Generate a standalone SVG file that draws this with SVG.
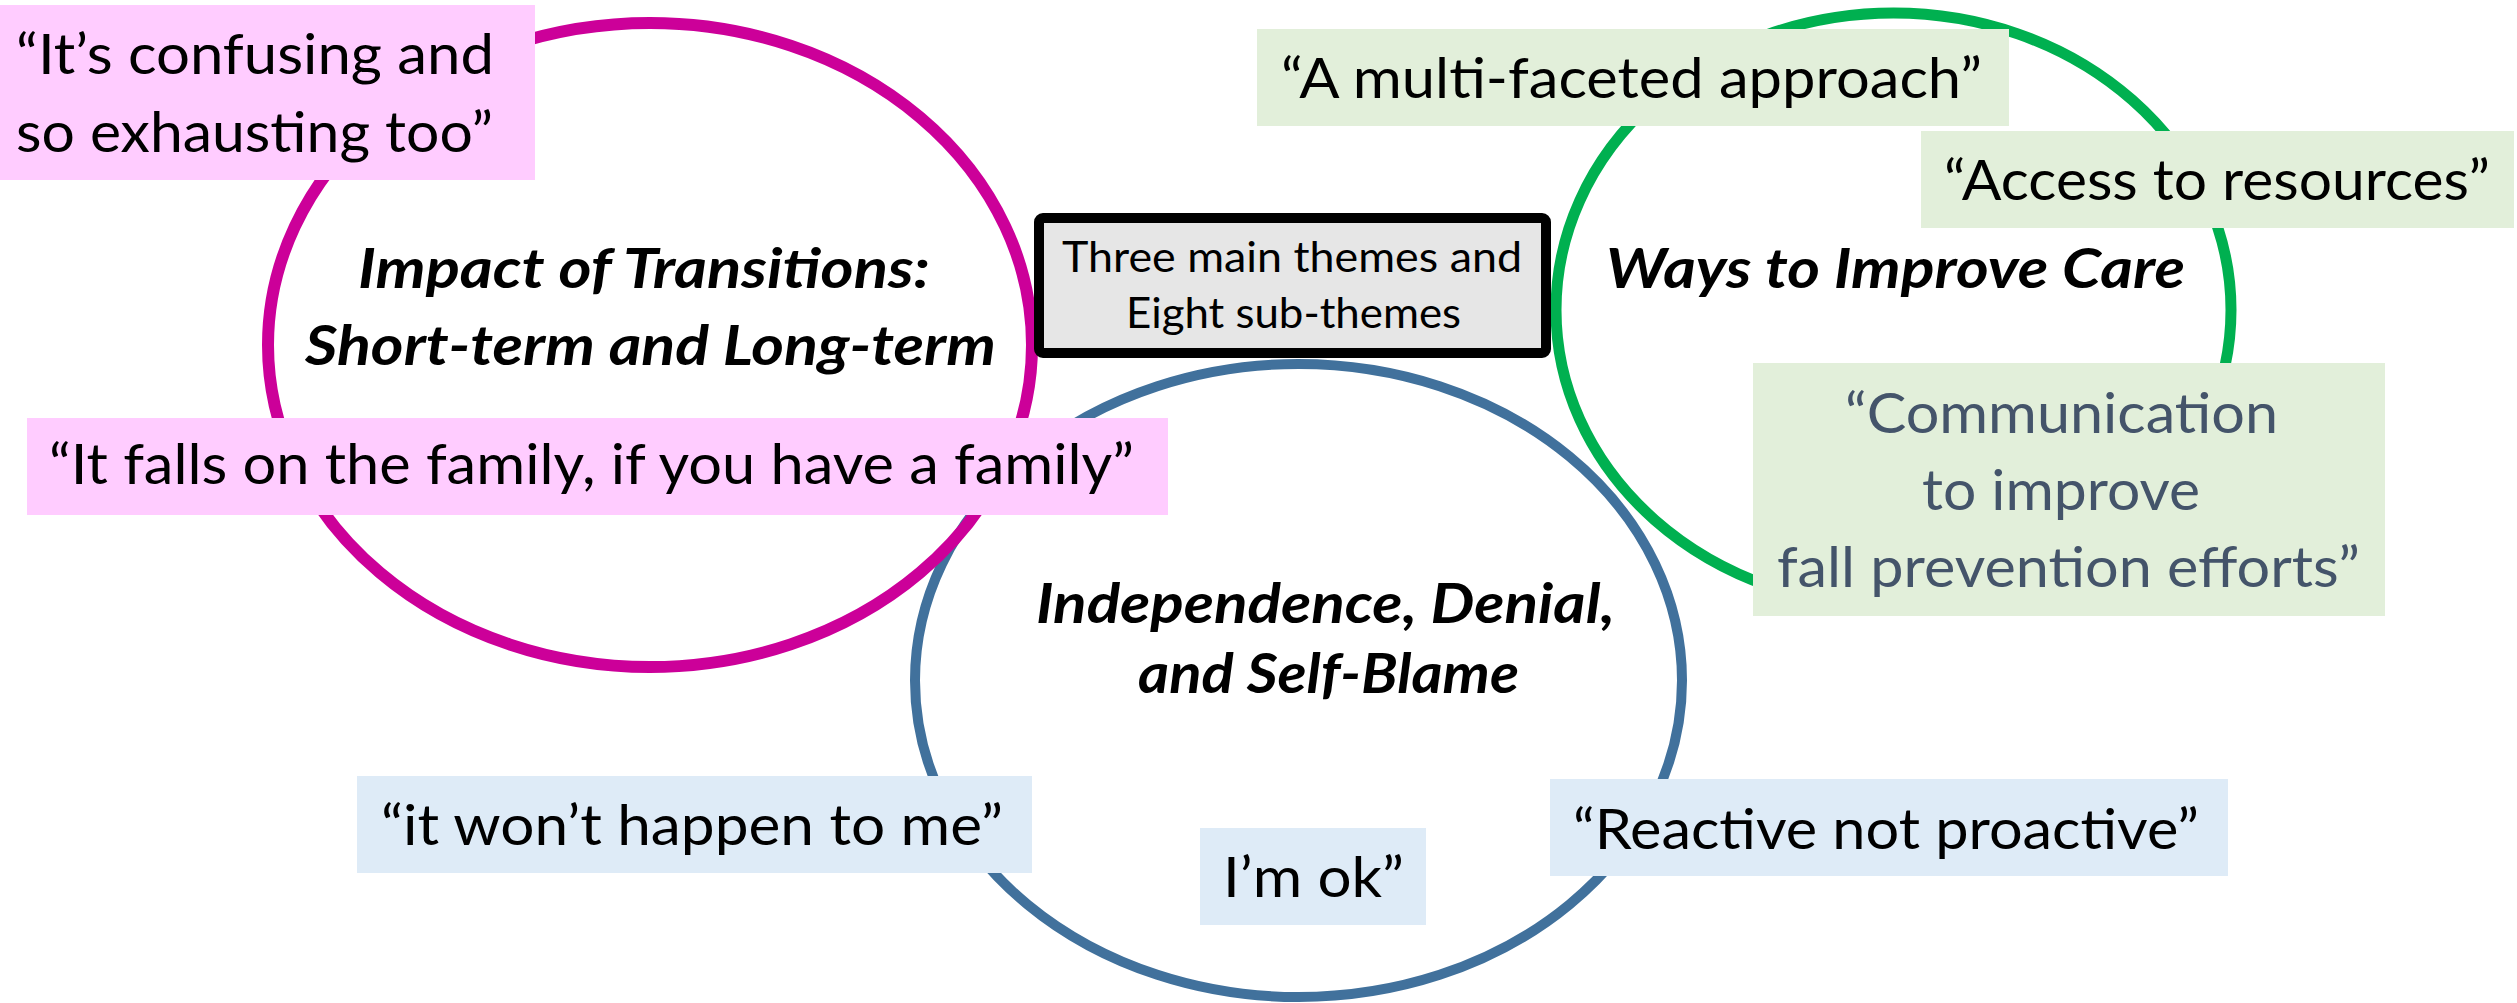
<svg xmlns="http://www.w3.org/2000/svg" width="2517" height="1003" viewBox="0 0 2517 1003">
<style>
.q{font-family:Lato,"Open Sans","Liberation Sans",sans-serif;font-size:56px;fill:#000}
.t{font-family:Lato,"Open Sans","Liberation Sans",sans-serif;font-size:55px;font-weight:bold;font-style:italic;fill:#000}
.g{font-family:Lato,"Open Sans","Liberation Sans",sans-serif;font-size:42px;fill:#000}
.slate{fill:#44546a}
.pink{fill:#ffccff}
.lg{fill:#e2efda}
.lb{fill:#deebf7}
.ring{fill:none}
</style>
<rect width="2517" height="1003" fill="#ffffff"/>
<g id="theme-independence-ring">
<ellipse class="ring" cx="1298.5" cy="680.5" rx="383.5" ry="316.5" stroke="#41719c" stroke-width="10"/>
</g>
<g id="theme-impact-ring">
<ellipse class="ring" cx="650" cy="345" rx="382" ry="322" stroke="#cc0099" stroke-width="12"/>
</g>
<g id="theme-ways-ring">
<ellipse class="ring" cx="1893.5" cy="310" rx="337.5" ry="297" stroke="#00b050" stroke-width="11"/>
</g>
<g id="connectors"></g>
<g id="center-box">
<rect x="1039" y="218" width="507" height="135" rx="4" fill="#e6e6e6" stroke="#000" stroke-width="10"/>
<text class="g" x="1062" y="272" textLength="460" lengthAdjust="spacingAndGlyphs">Three main themes and</text>
<text class="g" x="1126" y="328" textLength="335" lengthAdjust="spacingAndGlyphs">Eight sub-themes</text>
</g>
<g id="title-impact">
<text class="t" x="358" y="288" textLength="572" lengthAdjust="spacingAndGlyphs">Impact of Transitions:</text>
<text class="t" x="305" y="365" textLength="691" lengthAdjust="spacingAndGlyphs">Short-term and Long-term</text>
</g>
<g id="title-ways">
<text class="t" x="1606" y="288" textLength="579" lengthAdjust="spacingAndGlyphs">Ways to Improve Care</text>
</g>
<g id="title-independence">
<text class="t" x="1036" y="623" textLength="579" lengthAdjust="spacingAndGlyphs">Independence, Denial,</text>
<text class="t" x="1138" y="693" textLength="381" lengthAdjust="spacingAndGlyphs">and Self-Blame</text>
</g>
<g id="quote-confusing">
<rect class="pink" x="0" y="5" width="535" height="175"/>
<text class="q" x="16" y="74" textLength="478" lengthAdjust="spacingAndGlyphs">“It’s confusing and</text>
<text class="q" x="16" y="152" textLength="477" lengthAdjust="spacingAndGlyphs">so exhausting too”</text>
</g>
<g id="quote-family">
<rect class="pink" x="27" y="418" width="1141" height="97"/>
<text class="q" x="49" y="484" textLength="1085" lengthAdjust="spacingAndGlyphs">“It falls on the family, if you have a family”</text>
</g>
<g id="quote-multifaceted">
<rect class="lg" x="1257" y="29" width="752" height="97"/>
<text class="q" x="1281" y="98" textLength="701" lengthAdjust="spacingAndGlyphs">“A multi-faceted approach”</text>
</g>
<g id="quote-access">
<rect class="lg" x="1921" y="131" width="593" height="97"/>
<text class="q" x="1944" y="200" textLength="546" lengthAdjust="spacingAndGlyphs">“Access to resources”</text>
</g>
<g id="quote-communication">
<rect class="lg" x="1753" y="363" width="632" height="253"/>
<text class="q slate" x="1845" y="433" textLength="433" lengthAdjust="spacingAndGlyphs">“Communication</text>
<text class="q slate" x="1922" y="510" textLength="278" lengthAdjust="spacingAndGlyphs">to improve</text>
<text class="q slate" x="1777" y="587" textLength="583" lengthAdjust="spacingAndGlyphs">fall prevention efforts”</text>
</g>
<g id="quote-wont-happen">
<rect class="lb" x="357" y="776" width="675" height="97"/>
<text class="q" x="381" y="845" textLength="622" lengthAdjust="spacingAndGlyphs">“it won’t happen to me”</text>
</g>
<g id="quote-im-ok">
<rect class="lb" x="1200" y="828" width="226" height="97"/>
<text class="q" x="1223" y="897" textLength="181" lengthAdjust="spacingAndGlyphs">I’m ok”</text>
</g>
<g id="quote-reactive">
<rect class="lb" x="1550" y="779" width="678" height="97"/>
<text class="q" x="1573" y="849" textLength="626" lengthAdjust="spacingAndGlyphs">“Reactive not proactive”</text>
</g>
</svg>
